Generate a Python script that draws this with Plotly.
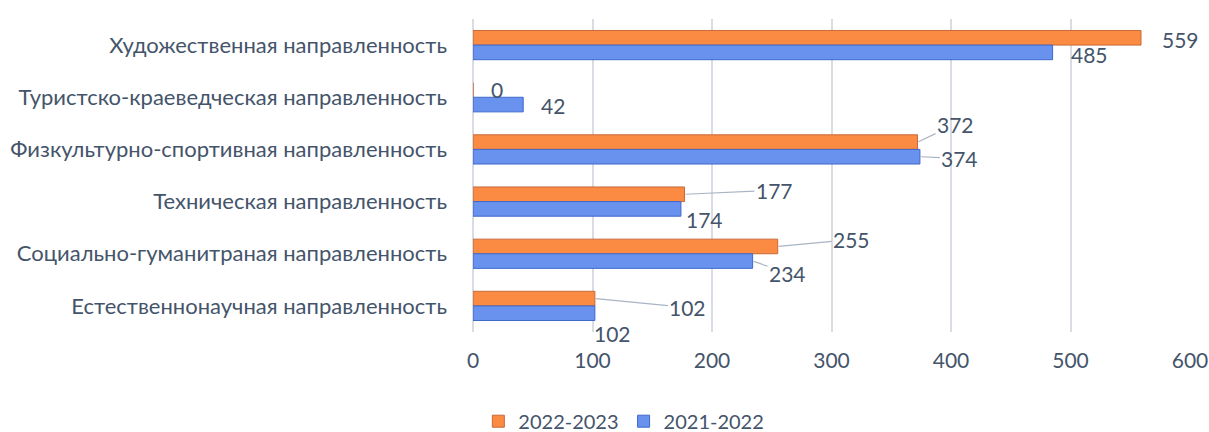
import plotly.graph_objects as go

categories = [
    "Естественнонаучная направленность",
    "Социально-гуманитраная направленность",
    "Техническая направленность",
    "Физкультурно-спортивная направленность",
    "Туристско-краеведческая направленность",
    "Художественная направленность",
]
series_names = ["2022-2023", "2021-2022"]
values_2022_2023 = [102, 255, 177, 372, 0, 559]
values_2021_2022 = [102, 234, 174, 374, 42, 485]
x_ticks = [0, 100, 200, 300, 400, 500, 600]

# label offsets in pixels from bar end: (ax, ay, leader_line)
off_2223 = [(93, 9, True), (74, -7, True), (90, -4, True), (38, -18, True), (24, 0, False), (39, 2, False)]
off_2122 = [(18, 20, False), (35, 12, True), (24, 11, False), (40, 2, True), (30, 1, False), (37, 2, False)]

TEXT = "#44546A"
FONT = "Lato"
ORANGE = "#FB8A42"
BLUE = "#6892EE"

idx = list(range(len(categories)))
bw = 0.28

fig = go.Figure()
fig.add_trace(go.Bar(
    y=idx, x=values_2022_2023, orientation="h", name=series_names[0],
    offset=0, width=bw,
    marker=dict(color=ORANGE, line=dict(color="#C8693A", width=1)),
))
fig.add_trace(go.Bar(
    y=idx, x=values_2021_2022, orientation="h", name=series_names[1],
    offset=-bw, width=bw,
    marker=dict(color=BLUE, line=dict(color="#3F68CC", width=1)),
))

ann = []
for vals, offs, sign in ((values_2022_2023, off_2223, 1), (values_2021_2022, off_2122, -1)):
    for i, (v, (ax, ay, line)) in enumerate(zip(vals, offs)):
        yy = i + sign * bw / 2
        if line:
            ann.append(dict(x=v, y=yy, xref="x", yref="y", text=str(v), showarrow=True,
                            ax=ax, ay=ay, arrowhead=0, arrowwidth=1.2, arrowcolor="#A9B5C4",
                            standoff=1, startstandoff=0,
                            font=dict(size=21, color=TEXT, family=FONT)))
        else:
            ann.append(dict(x=v, y=yy, xref="x", yref="y", text=str(v), showarrow=False,
                            xshift=ax, yshift=-ay,
                            font=dict(size=21, color=TEXT, family=FONT)))

fig.update_layout(
    width=1209, height=432,
    margin=dict(l=473, r=19, t=19, b=100, autoexpand=False),
    paper_bgcolor="white", plot_bgcolor="white",
    font=dict(family=FONT, color=TEXT, size=20),
    barmode="overlay",
    showlegend=True,
    hovermode=False,
    legend=dict(orientation="h", xref="container", yref="container",
                x=0.516, xanchor="center", y=0.025, yanchor="middle",
                font=dict(size=20, color=TEXT, family=FONT),
                traceorder="normal", itemwidth=30),
    annotations=ann,
)
fig.update_xaxes(range=[0, 600], tickvals=x_ticks, ticktext=[str(t) for t in x_ticks],
                 automargin=False,
                 showgrid=True, gridcolor="#D9DDE3", gridwidth=1.5,
                 zeroline=True, zerolinecolor="#D9DDE3", zerolinewidth=1.5,
                 showline=False, ticklabelstandoff=14,
                 tickfont=dict(size=21, color=TEXT, family=FONT))
fig.update_yaxes(range=[-0.5, 5.5], tickvals=idx, ticktext=categories,
                 automargin=False,
                 showgrid=False, zeroline=False, showline=False,
                 ticklabelstandoff=25,
                 tickfont=dict(size=22, color=TEXT, family=FONT))

# remove the default page margin so the figure fills the window exactly
fig.write_html("out.html",
               config={"displayModeBar": False},
               post_script="document.body.style.margin='0';document.body.style.overflow='hidden';")
